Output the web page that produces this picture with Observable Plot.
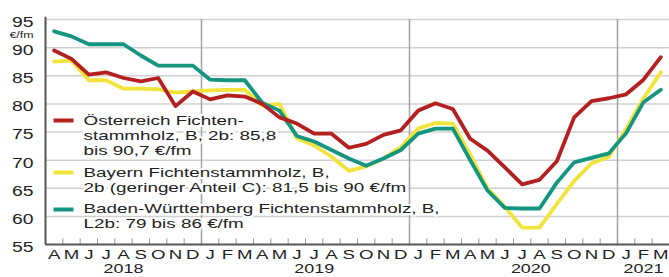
<!DOCTYPE html>
<html><head><meta charset="utf-8">
<script src="https://cdn.jsdelivr.net/npm/d3@7"></script>
<script src="https://cdn.jsdelivr.net/npm/@observablehq/plot@0.6"></script>
<style>
body{margin:0;background:#fff;}
#chart svg{display:block;}
</style></head><body><div id="chart"></div>
<script>
// Month letters, April 2018 – March 2021
const monthLetters = ["A","M","J","J","A","S","O","N","D",
  "J","F","M","A","M","J","J","A","S","O","N","D",
  "J","F","M","A","M","J","J","A","S","O","N","D",
  "J","F","M"];
const years = ["2018","2019","2020","2021"];
const yearAnchorMonth = [4, 15, 27.5, 34]; // month index under which each year label sits
const yTicks = [55,60,65,70,75,80,85,90,95];
const yUnit = "€/fm";

// €/fm
const oesterreich = [89.5,88.0,85.2,85.6,84.6,84.0,84.6,79.6,82.2,
  80.8,81.5,81.3,80.0,77.6,76.5,74.7,74.7,72.2,72.9,74.5,75.3,
  78.8,80.1,79.1,73.8,71.7,68.7,65.7,66.5,69.8,77.6,80.5,81.0,
  81.7,84.3,88.3];
const bayern = [87.5,87.7,84.2,84.2,82.7,82.7,82.6,82.0,82.2,
  82.4,82.5,82.5,79.7,80.0,73.9,72.6,70.6,68.1,68.9,70.3,72.3,
  75.6,76.6,76.5,71.0,65.0,61.7,58.0,58.0,62.2,66.3,69.4,70.6,
  75.6,81.0,85.6];
const badenWuerttemberg = [92.9,92.0,90.6,90.6,90.6,88.6,86.8,86.8,86.8,
  84.3,84.2,84.2,80.2,78.8,74.3,73.3,71.8,70.3,69.0,70.3,71.8,
  74.7,75.6,75.6,70.0,64.6,61.5,61.4,61.4,66.0,69.6,70.4,71.2,
  74.8,80.3,82.5];

const legendLabels = [
  ["Österreich Fichten-", "stammholz, B, 2b: 85,8", "bis 90,7 €/fm"],
  ["Bayern Fichtenstammholz, B,", "2b (geringer Anteil C): 81,5 bis 90 €/fm"],
  ["Baden-Württemberg Fichtenstammholz, B,", "L2b: 79 bis 86 €/fm"]
];

const colors = {oe:"#b41f1f", by:"#f2e33a", bw:"#13957f"};
const series = [
  {key:"by", values: bayern},
  {key:"bw", values: badenWuerttemberg},
  {key:"oe", values: oesterreich}
];
const FONT = "'Liberation Sans', Arial, sans-serif";
const SX = 1.38;     // horizontal stretch of the axis lettering
const SX_LEG = 1.45; // horizontal stretch of the legend lettering
const INK = "#222";

const monthIdx = monthLetters.map((m,i)=>({m,i}));
const boundaries = d3.range(monthLetters.length - 1).map(i => i + 0.5);
const yearBoundaries = boundaries.filter(b => monthLetters[b + 0.5] === "J" && monthLetters[b - 0.5] === "D");

const legendSpec = [
  {lines: legendLabels[0], color: colors.oe, swatchY: 101, textY: 101},
  {lines: legendLabels[1], color: colors.by, swatchY: 153, textY: 153},
  {lines: legendLabels[2], color: colors.bw, swatchY: 190, textY: 189}
];
const legendSet = new Set(legendLabels.flat());
const LINE_GAP = 15;
const bar = {draw(ctx){ ctx.rect(-10, -2, 20, 4); }};

const marks = [
  Plot.ruleY(yTicks.slice(1), {stroke:"#d0d0d0", strokeWidth:1.5}),
  Plot.ruleX(yearBoundaries, {y1:55, y2:95, stroke:"#a3a3a3", strokeWidth:1.5}),
  Plot.ruleX(boundaries, {y1:55, y2:56, stroke:"#999", strokeWidth:1}),
];
for (const L of legendSpec) {
  L.lines.forEach((line, k) => {
    marks.push(Plot.text([line], {frameAnchor:"top-left", dx:38, dy:L.textY + k*LINE_GAP, text:d=>d,
      textAnchor:"start", lineAnchor:"middle", fontSize:13, fill:INK,
      stroke:"white", strokeWidth:4, fontFamily:FONT}));
  });
  marks.push(Plot.dot([L.color], {frameAnchor:"top-left", dx:18, dy:L.swatchY, symbol:bar, fill:L.color, stroke:null, r:5}));
}
for (const s of series) {
  marks.push(Plot.line(s.values.map((v,i)=>({i,v})), {x:"i", y:"v", stroke:colors[s.key], strokeWidth:3.8, strokeLinejoin:"round", strokeLinecap:"round"}));
}
marks.push(
  Plot.ruleX([-0.5], {y1:55, y2:95.4, stroke:"#555", strokeWidth:2}),
  Plot.ruleY([55], {stroke:"#555", strokeWidth:2}),
  Plot.text(yTicks, {x:-0.5, y:d=>d, text:d=>String(d), dx:-12, dy:3, textAnchor:"end", fontSize:14, fill:INK, fontFamily:FONT}),
  Plot.text([yUnit], {x:-0.5, y:95, text:d=>d, dx:-12, dy:16, textAnchor:"end", fontSize:9, fill:INK, fontFamily:FONT}),
  Plot.text(monthIdx, {x:"i", y:55, text:"m", dy:10.5, fontSize:13.5, fill:INK, fontFamily:FONT}),
  Plot.text(years.map((y,k)=>({y, i:yearAnchorMonth[k]})), {x:"i", y:55, text:"y", dy:24.5, fontSize:13, fill:INK, fontFamily:FONT})
);

const chart = Plot.plot({
  width:669, height:277,
  marginLeft:45, marginRight:0, marginTop:19, marginBottom:33,
  x:{domain:[-0.5, monthLetters.length - 0.5], axis:null},
  y:{domain:[55,95], axis:null},
  style:{background:"white", fontFamily:FONT},
  marks
});
chart.querySelectorAll("text").forEach(t => {
  const isLegend = legendSet.has(t.textContent);
  const tr = t.getAttribute("transform") || "";
  t.setAttribute("transform", tr + ` scale(${isLegend ? SX_LEG : SX},1)`);
});
document.getElementById("chart").appendChild(chart);
</script>
</body></html>
